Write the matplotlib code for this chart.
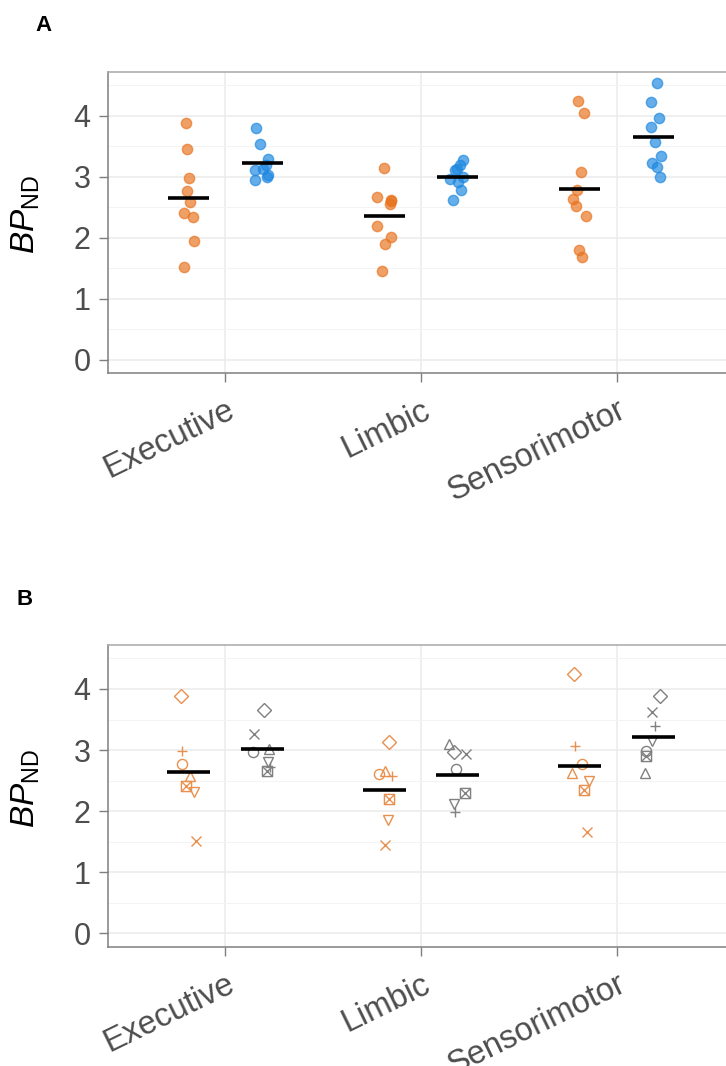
import numpy as np
import matplotlib
matplotlib.use('Agg')
import matplotlib.pyplot as plt
import matplotlib.transforms as mtransforms
from matplotlib.path import Path

plt.rcParams['font.family'] = ['Liberation Sans', 'DejaVu Sans']
plt.rcParams['mathtext.fontset'] = 'custom'
plt.rcParams['mathtext.rm'] = 'Liberation Sans'
plt.rcParams['mathtext.it'] = 'Liberation Sans:italic'

# categories
regions = ['Executive', 'Limbic', 'Sensorimotor']

# panel A values (per region)
a_orange = [[3.88, 3.45, 2.98, 2.77, 2.58, 2.41, 2.34, 1.95, 1.52],
            [3.14, 2.67, 2.62, 2.60, 2.56, 2.20, 2.02, 1.89, 1.45],
            [4.25, 4.05, 3.08, 2.78, 2.63, 2.52, 2.35, 1.80, 1.68]]
a_blue = [[3.80, 3.54, 3.29, 3.20, 3.12, 3.11, 3.03, 2.99, 2.95],
          [3.28, 3.19, 3.12, 3.11, 3.00, 2.97, 2.92, 2.79, 2.62],
          [4.54, 4.22, 3.97, 3.81, 3.57, 3.34, 3.22, 3.16, 3.00]]
# jitter of the points as seen in the picture
a_orange_jit = [[-0.012, -0.009, 0.003, -0.009, 0.005, -0.022, 0.024, 0.026, -0.024],
                [0.0, -0.036, 0.034, 0.032, 0.029, -0.038, 0.034, 0.005, -0.012],
                [-0.01, 0.019, 0.003, -0.014, -0.036, -0.022, 0.029, -0.005, 0.01]]
a_blue_jit = [[-0.03, -0.012, 0.029, 0.02, 0.004, -0.036, 0.029, 0.024, -0.036],
              [0.025, 0.014, -0.005, -0.012, 0.029, -0.038, 0.003, 0.015, -0.024],
              [0.02, -0.012, 0.029, -0.014, 0.01, 0.038, -0.005, 0.019, 0.034]]

# panel B: one shape per subject
b_shapes = ['D', '+', 'o', '^', 'sx', 'v', 'x']
b_orange = [[3.88, 2.99, 2.77, 2.58, 2.41, 2.32, 1.51],
            [3.13, 2.57, 2.61, 2.65, 2.20, 1.85, 1.44],
            [4.24, 3.06, 2.77, 2.62, 2.34, 2.50, 1.66]]
b_gray = [[3.65, 2.73, 2.97, 3.02, 2.66, 2.81, 3.27],
          [2.96, 1.99, 2.69, 3.10, 2.30, 2.12, 2.94],
          [3.89, 3.39, 2.98, 2.62, 2.91, 3.14, 3.62]]
b_orange_jit = [[-0.039, -0.034, -0.034, 0.009, -0.014, 0.029, 0.039],
                [0.026, 0.037, -0.026, 0.005, 0.022, 0.017, 0.003],
                [-0.031, -0.024, 0.012, -0.039, 0.02, 0.044, 0.037]]
b_gray_jit = [[0.012, 0.041, -0.044, 0.033, 0.024, 0.029, -0.039],
              [-0.017, -0.014, -0.009, -0.046, 0.039, -0.017, 0.042],
              [0.033, 0.01, -0.036, -0.041, -0.036, -0.005, -0.005]]

orange = '#E8731E'
blue = '#1E88E0'
b_orange_col = '#E8904F'
b_gray_col = '#808080'
dodge = 0.1875
half = 0.105

# square with a cross inside (ggplot shape 7)
sq_x = Path([(-1, -1), (1, -1), (1, 1), (-1, 1), (-1, -1), (-1, -1), (1, 1), (-1, 1), (1, -1)],
            [Path.MOVETO, Path.LINETO, Path.LINETO, Path.LINETO, Path.CLOSEPOLY,
             Path.MOVETO, Path.LINETO, Path.MOVETO, Path.LINETO])

fig = plt.figure(figsize=(7.26, 10.66), dpi=100)
W, H = 726, 1066
ax_a = fig.add_axes([108 / W, 1 - 373 / H, 626 / W, 301 / H])
ax_b = fig.add_axes([108 / W, 1 - 946.7 / H, 626 / W, 301.7 / H])


def style(ax):
    ax.set_xlim(0.4, 3.6)
    ax.set_ylim(-0.22, 4.72)
    ax.set_xticks([1, 2, 3])
    ax.set_yticks([0, 1, 2, 3, 4])
    ax.set_yticks(np.arange(0.5, 4.6, 1.0), minor=True)
    ax.set_xticks([], minor=True)
    ax.grid(which='major', color='#EBEBEB', lw=1.1)
    ax.grid(which='minor', axis='y', color='#F3F3F3', lw=0.7)
    ax.set_axisbelow(True)
    for s in ['left', 'bottom']:
        ax.spines[s].set_color('#7F7F7F')
        ax.spines[s].set_linewidth(1.1)
    ax.spines['top'].set_color('#A8A8A8')
    ax.spines['top'].set_linewidth(1.1)
    ax.spines['right'].set_visible(False)
    ax.tick_params(which='major', length=6.5, width=1, color='#7F7F7F',
                   labelsize=22, labelcolor='#4D4D4D')
    ax.tick_params(axis='y', pad=6)
    ax.tick_params(which='minor', length=0)
    ax.set_xticklabels(regions, rotation=26, ha='right', va='top', rotation_mode='anchor',
                       fontsize=23.5)
    off = mtransforms.ScaledTranslation(0.01, -0.08, fig.dpi_scale_trans)
    for lbl in ax.get_xticklabels():
        lbl.set_transform(lbl.get_transform() + off)
    ax.set_ylabel(r'$\mathit{BP}_{\mathrm{ND}}$', fontsize=24, color='black')
    ax.yaxis.set_label_coords(-0.105, 0.525)


style(ax_a)
style(ax_b)

# panel A
for i in range(3):
    xo = i + 1 - dodge + np.array(a_orange_jit[i])
    xb = i + 1 + dodge + np.array(a_blue_jit[i])
    ax_a.scatter(xo, a_orange[i], s=55, color=orange, alpha=0.68, linewidths=1.0, zorder=3)
    ax_a.scatter(xb, a_blue[i], s=55, color=blue, alpha=0.68, linewidths=1.0, zorder=3)
    ax_a.hlines(np.mean(a_orange[i]), i + 1 - dodge - half, i + 1 - dodge + half,
                color='black', lw=2.6, zorder=4)
    ax_a.hlines(np.mean(a_blue[i]), i + 1 + dodge - half, i + 1 + dodge + half,
                color='black', lw=2.6, zorder=4)

# panel B
for i in range(3):
    for vals, jit, col, side in [(b_orange, b_orange_jit, b_orange_col, -1),
                                 (b_gray, b_gray_jit, b_gray_col, 1)]:
        for k, shp in enumerate(b_shapes):
            x = i + 1 + side * dodge + jit[i][k]
            m = sq_x if shp == 'sx' else shp
            ax_b.plot(x, vals[i][k], marker=m, ms=7.3, mfc='none', mec=col, mew=1.0,
                      ls='none', zorder=3)
        ax_b.hlines(np.mean(vals[i]), i + 1 + side * dodge - 0.11, i + 1 + side * dodge + 0.11,
                    color='black', lw=2.6, zorder=4)

fig.text(35 / W, 1 - 31 / H, 'A', fontsize=16, fontweight='bold')
fig.text(17 / W, 1 - 605 / H, 'B', fontsize=16, fontweight='bold')

fig.savefig('out.png', dpi=100)
